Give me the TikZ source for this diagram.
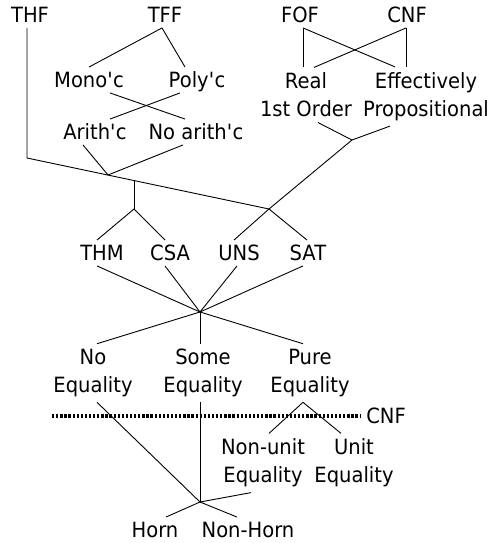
\documentclass[tikz,border=0pt]{standalone}
\usepackage{fontspec}
\setmainfont{DejaVu Sans}[FakeStretch=0.93]
\newcommand{\apos}{\textquotesingle}
\begin{document}
\begin{tikzpicture}[x=1pt, y=-1pt, line width=0.9pt,
        lbl/.style={font=\fontsize{21}{28}\selectfont, inner sep=5pt, text height=15pt, text depth=0pt},
        lbltwo/.style={font=\fontsize{21}{28}\selectfont, inner sep=5pt, align=center},
        cnfline/.style={line width=4pt, dash pattern=on 2.3pt off 1.8pt}]
        \useasboundingbox (0,0) rectangle (494,543);

        % languages
        \node[lbl] (thf) at (30,15) {THF};
        \node[lbl] (tff) at (165,15) {TFF};
        \node[lbl] (fof) at (300,15) {FOF};
        \node[lbl] (cnf) at (407,15) {CNF};

        \node[lbl] (mono) at (89,80) {Mono\apos c};
        \node[lbl] (poly) at (197,80) {Poly\apos c};
        \node[lbl] (arith) at (95,132) {Arith\apos c};
        \node[lbl] (noarith) at (196,132) {No arith\apos c};
        \node[lbltwo] (real) at (306,95) {Real\\1st Order};
        \node[lbltwo] (eff) at (426,96.5) {Effectively\\Propositional};

        % status
        \node[lbl] (thm) at (102,253) {THM};
        \node[lbl] (csa) at (170,253) {CSA};
        \node[lbl] (uns) at (239,253) {UNS};
        \node[lbl] (sat) at (308,253) {SAT};

        % equality
        \node[lbltwo] (noeq) at (93,373) {No\\Equality};
        \node[lbltwo] (someeq) at (203,373) {Some\\Equality};
        \node[lbltwo] (pureeq) at (310,373) {Pure\\Equality};
        \node[lbl] (cnfcut) at (386,416) {CNF};
        \node[lbltwo] (nonunit) at (263,463) {Non-unit\\Equality};
        \node[lbltwo] (uniteq) at (354,463) {Unit\\Equality};
        \node[lbl] (horn) at (155,530) {Horn};
        \node[lbl] (nonhorn) at (248,530) {Non-Horn};

        \coordinate (thfbend) at (27,158);
        \coordinate (jarith) at (108,175);
        \coordinate (jvert) at (134,180.5);
        \coordinate (jthm) at (134,209);
        \coordinate (jfo) at (352,140);
        \coordinate (jsat) at (269,209);
        \coordinate (hub) at (200,312);
        \coordinate (hubtwo) at (200,502);
        \coordinate (dotl) at (52,416);

        \draw (thf.south -| thfbend) -- (thfbend) -- (jsat) -- ([xshift=-1pt]sat.north);
        \draw ([xshift=-3pt]tff.south) -- (mono.north);
        \draw ([xshift=-3pt]tff.south) -- ([xshift=-12pt]poly.north);
        \draw ([xshift=21pt]mono.south) -- ([xshift=-11pt]noarith.north);
        \draw ([xshift=-17pt]poly.south) -- ([xshift=15pt]arith.north);
        \draw ([xshift=-12pt]arith.south) -- (jarith) -- ([xshift=-13pt]noarith.south);
        \draw (jvert) -- (jthm);
        \draw ([xshift=-5pt]thm.north) -- (jthm) -- ([xshift=-5pt]csa.north);

        \draw ([xshift=3pt]fof.south) -- ([xshift=-3pt]real.north);
        \draw ([xshift=3pt]fof.south) -- ([xshift=-31pt]eff.north);
        \draw ([xshift=-1pt]cnf.south) -- ([xshift=-20pt]eff.north);
        \draw ([xshift=-1pt]cnf.south) -- ([xshift=8pt]real.north);
        \draw ([xshift=12pt]real.south) -- (jfo) -- ([xshift=-36pt]eff.south);
        \draw (jfo) -- (jsat) -- ([xshift=-5pt]uns.north);

        \draw ([xshift=-5pt]thm.south) -- (hub);
        \draw ([xshift=-5pt]csa.south) -- (hub);
        \draw ([xshift=-2pt]uns.south) -- (hub);
        \draw ([xshift=-5pt]sat.south) -- (hub);
        \draw (hub) -- ([xshift=4pt]noeq.north);
        \draw (hub) -- ([xshift=-3pt]someeq.north);
        \draw (hub) -- ([xshift=-7pt]pureeq.north);

        \draw[cnfline] (dotl) -- (cnfcut.west);
        \draw ([xshift=-7pt]pureeq.south) -- ([xshift=6pt]nonunit.north);
        \draw ([xshift=-7pt]pureeq.south) -- ([xshift=-13pt]uniteq.north);
        \draw ([xshift=4pt]noeq.south) -- (hubtwo);
        \draw ([xshift=-3pt]someeq.south) -- (hubtwo);
        \draw ([xshift=-12pt]nonunit.south) -- (hubtwo);
        \draw (hubtwo) -- ([xshift=11pt]horn.north);
        \draw (hubtwo) -- ([xshift=-11pt]nonhorn.north);
\end{tikzpicture}
\end{document}
